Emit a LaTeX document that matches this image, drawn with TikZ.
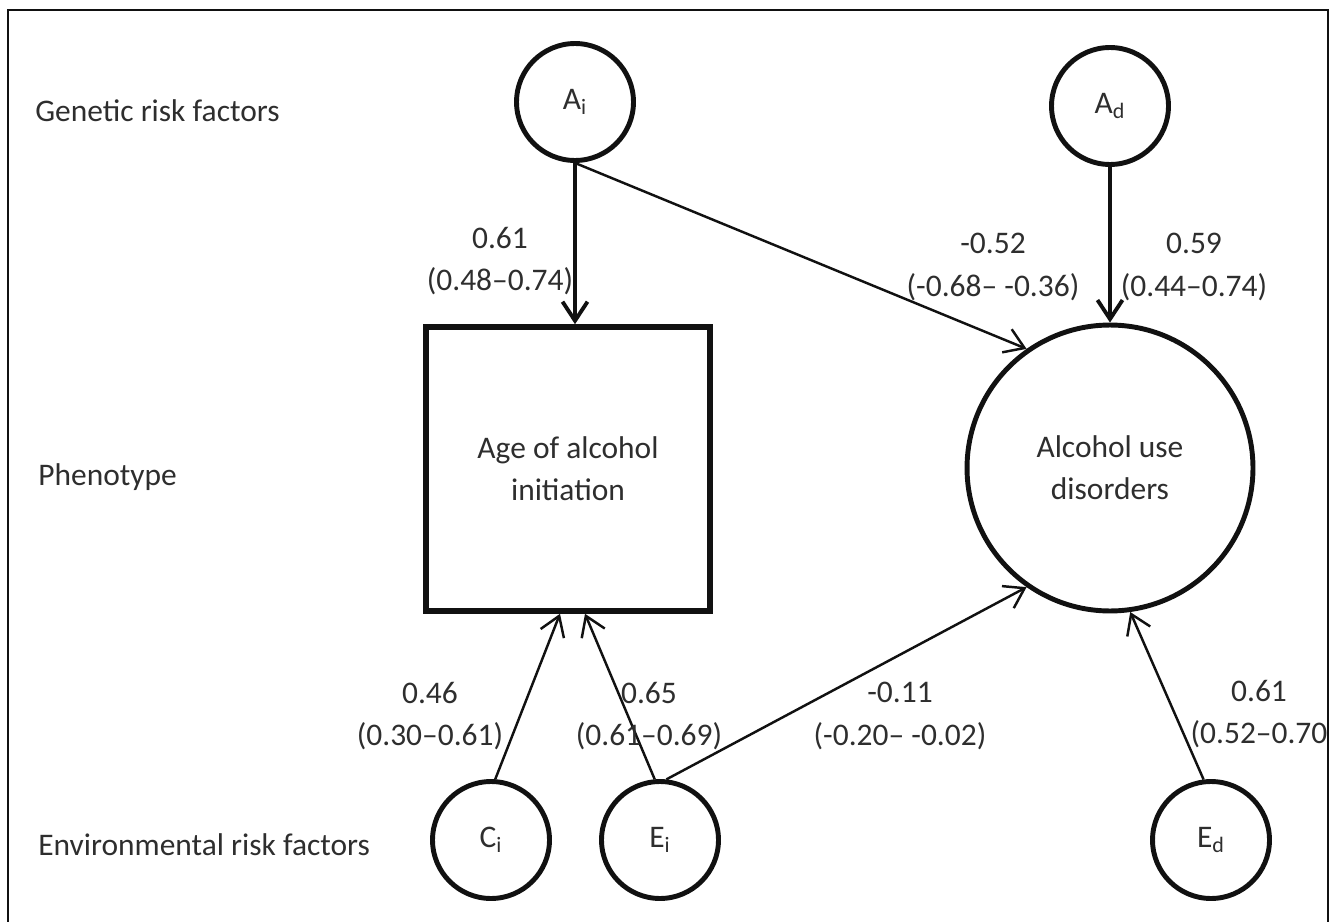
\documentclass[tikz,border=0pt]{standalone}
\usepackage{fontspec}
\setmainfont{Carlito}
\usetikzlibrary{arrows.meta,calc}
\definecolor{tinta}{HTML}{2E2E2E}
\definecolor{trazo}{HTML}{111111}

\begin{document}
\begin{tikzpicture}[x=0.02cm,y=-0.02cm,
    every node/.style={font=\fontsize{17.9}{24}\selectfont,text=tinta,align=center},
    latent/.style={circle,draw=trazo,line width=2.8pt,minimum size=2.34cm,inner sep=0pt},
    outcome/.style={circle,draw=trazo,line width=2.8pt,minimum size=5.72cm,inner sep=0pt},
    observed/.style={draw=trazo,line width=3.2pt,minimum width=5.68cm,minimum height=5.68cm,inner sep=0pt},
    rowlabel/.style={anchor=base west,inner sep=0pt},
    loading/.style={draw=trazo,line width=2.2pt,-{Straight Barb[length=0.38cm,width=0.5cm]}},
    effect/.style={draw=trazo,line width=1.4pt,-{Straight Barb[length=0.38cm,width=0.5cm]}}
  ]
    \useasboundingbox (0,0) rectangle (1335,922);
    \draw[trazo,line width=1.1pt] (8,930) -- (8,10) -- (1328,10) -- (1328,930);

    \node[rowlabel] (genetic) at (35,122) {Genetic risk factors};
    \node[rowlabel] (pheno) at (38,485) {Phenotype};
    \node[rowlabel] (environ) at (38,855) {Environmental risk factors};

    \node[latent] (Ai) at (575,102) {A\textsubscript{i}};
    \node[latent] (Ad) at (1110,106) {A\textsubscript{d}};
    \node[observed] (age) at (568,469) {Age of alcohol\\initiation};
    \node[outcome] (aud) at (1110,468) {Alcohol use\\disorders};
    \node[latent] (Ci) at (491,840) {C\textsubscript{i}};
    \node[latent] (Ei) at (660,840) {E\textsubscript{i}};
    \node[latent] (Ed) at (1211,840) {E\textsubscript{d}};

    \draw[loading] (Ai.south) -- (Ai.south |- age.north);
    \draw[effect] (Ai.south) -- (aud.125);
    \draw[loading] (Ad) -- (aud);
    \draw[effect] (Ci.86) -- ($(age.south)+(-8,0)$);
    \draw[effect] (Ei.95) -- ($(age.south)+(17,0)$);
    \draw[effect] (Ei.84) -- (aud.235);
    \draw[effect] (Ed.97) -- (aud.278);

    \node (lAi) at (500,261) {0.61\\(0.48–0.74)};
    \node (lAiaud) at (993,267) {-0.52\\(-0.68– -0.36)};
    \node (lAd) at (1194,267) {0.59\\(0.44–0.74)};
    \node (lCi) at (430,716) {0.46\\(0.30–0.61)};
    \node (lEi) at (649,716) {0.65\\(0.61–0.69)};
    \node (lEiaud) at (900,716) {-0.11\\(-0.20– -0.02)};
    \node (lEd) at (1259,714) {0.61\\(0.52–0.70};
  \end{tikzpicture}
\end{document}
